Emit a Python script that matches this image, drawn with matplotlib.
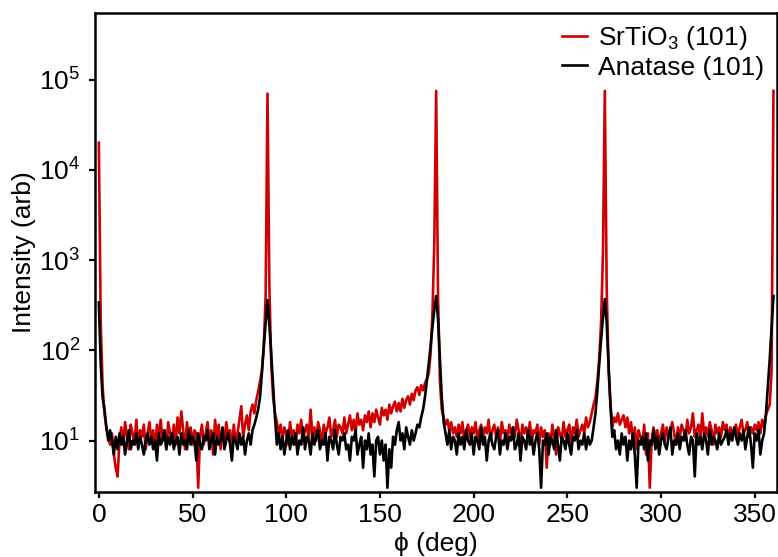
import numpy as np
import matplotlib
matplotlib.use("Agg")
import matplotlib.pyplot as plt
from matplotlib.ticker import LogLocator, NullLocator

plt.rcParams['font.family'] = ['Liberation Sans', 'DejaVu Sans']
plt.rcParams['mathtext.fontset'] = 'custom'
plt.rcParams['mathtext.rm'] = 'Liberation Sans'
plt.rcParams['mathtext.it'] = 'Liberation Sans:italic'
plt.rcParams['mathtext.bf'] = 'Liberation Sans:bold'

phi = np.arange(0, 361, 1)

anatase = [
    340, 70, 30, 22, 14, 10, 13, 10, 7, 11,
    8, 12, 9, 11, 7, 10, 13, 8, 10, 9,
    12, 8, 11, 9, 7, 10, 12, 9, 11, 8,
    10, 6, 12, 9, 10, 13, 8, 11, 9, 12,
    8, 10, 11, 7, 12, 9, 10, 8, 13, 9,
    11, 10, 6, 12, 9, 8, 11, 10, 13, 8,
    10, 12, 7, 11, 9, 10, 14, 8, 10, 12,
    9, 6, 11, 10, 8, 12, 9, 11, 7, 10,
    12, 9, 13, 15, 18, 22, 30, 55, 110, 200,
    360, 190, 90, 40, 18, 9, 12, 8, 11, 7,
    10, 13, 8, 11, 9, 12, 7, 10, 9, 14,
    8, 11, 10, 7, 12, 9, 11, 13, 8, 10,
    9, 12, 6, 11, 10, 8, 13, 9, 7, 11,
    10, 12, 8, 9, 6, 11, 10, 13, 7, 9,
    11, 5, 10, 8, 12, 7, 9, 4, 10, 11,
    7, 10, 6, 9, 3, 8, 5, 11, 9, 13,
    16, 10, 12, 8, 14, 11, 9, 13, 10, 12,
    15, 14, 18, 22, 30, 45, 70, 110, 180, 280,
    400, 220, 80, 30, 16, 12, 9, 13, 8, 11,
    10, 7, 12, 9, 11, 8, 13, 10, 9, 12,
    7, 11, 10, 8, 14, 9, 11, 6, 10, 12,
    9, 8, 11, 13, 7, 10, 9, 12, 8, 11,
    10, 14, 8, 9, 12, 6, 11, 10, 8, 13,
    9, 11, 7, 10, 12, 8, 3, 10, 9, 12,
    7, 11, 10, 8, 13, 9, 6, 11, 10, 8,
    12, 9, 7, 11, 10, 13, 8, 10, 9, 12,
    8, 11, 9, 10, 14, 20, 35, 70, 130, 230,
    370, 200, 70, 25, 11, 13, 8, 10, 7, 12,
    9, 11, 6, 10, 8, 12, 7, 3, 10, 9,
    11, 8, 12, 6, 10, 9, 13, 8, 11, 7,
    10, 12, 9, 8, 11, 14, 7, 10, 9, 12,
    8, 11, 10, 13, 9, 7, 11, 10, 4, 12,
    9, 11, 8, 12, 10, 7, 13, 9, 11, 10,
    8, 12, 9, 10, 11, 13, 9, 12, 10, 14,
    11, 9, 12, 10, 13, 8, 11, 14, 9, 5,
    12, 10, 13, 7, 10, 12, 20, 40, 80, 180,
    400,
]

srtio3 = [
    20000, 200, 40, 20, 14, 11, 9, 12, 7, 5,
    4, 10, 14, 9, 16, 11, 8, 15, 12, 9,
    17, 9, 13, 11, 15, 8, 12, 16, 10, 13,
    8, 15, 11, 17, 10, 13, 8, 16, 12, 10,
    15, 9, 18, 12, 21, 13, 8, 16, 11, 14,
    9, 13, 12, 3, 11, 15, 9, 12, 16, 10,
    13, 7, 17, 11, 15, 8, 12, 10, 16, 11,
    13, 8, 15, 10, 12, 17, 24, 11, 15, 19,
    13, 21, 25, 20, 28, 35, 45, 60, 110, 400,
    70000, 500, 70, 30, 20, 16, 12, 15, 10, 14,
    12, 9, 16, 11, 13, 9, 15, 12, 17, 10,
    13, 15, 10, 22, 11, 14, 10, 16, 13, 9,
    15, 12, 14, 18, 11, 13, 17, 11, 15, 14,
    12, 18, 12, 15, 19, 13, 17, 12, 20, 15,
    17, 13, 19, 16, 21, 14, 20, 16, 22, 18,
    15, 23, 19, 22, 17, 25, 20, 24, 27, 21,
    26, 21, 29, 23, 28, 31, 25, 33, 28, 36,
    39, 32, 41, 36, 43, 48, 55, 90, 250, 1500,
    75000, 400, 45, 22, 18, 15, 17, 13, 16, 12,
    14, 11, 15, 12, 16, 10, 13, 15, 11, 14,
    12, 16, 10, 13, 15, 11, 14, 12, 17, 10,
    13, 15, 11, 14, 9, 16, 12, 13, 10, 15,
    12, 14, 11, 17, 13, 9, 15, 12, 14, 11,
    16, 10, 13, 12, 15, 9, 14, 11, 13, 5,
    12, 9, 15, 11, 7, 14, 12, 10, 16, 11,
    13, 15, 9, 14, 12, 17, 11, 13, 15, 12,
    18, 14, 16, 20, 25, 30, 45, 80, 200, 1200,
    75000, 500, 60, 25, 14, 18, 16, 20, 15, 17,
    19, 14, 18, 12, 16, 10, 14, 8, 13, 11,
    9, 15, 7, 12, 3, 10, 14, 11, 13, 9,
    12, 15, 10, 14, 11, 13, 16, 12, 9, 14,
    11, 15, 13, 10, 17, 12, 14, 20, 11, 13,
    15, 10, 20, 12, 14, 11, 16, 13, 9, 15,
    12, 14, 11, 16, 13, 15, 10, 14, 12, 13,
    15, 11, 14, 17, 12, 13, 16, 11, 14, 12,
    15, 13, 16, 12, 17, 14, 19, 22, 25, 60,
    75000,
]

xticks = [0, 50, 100, 150, 200, 250, 300, 350]
series_labels = ["SrTiO$_3$ (101)", "Anatase (101)"]

fig = plt.figure(figsize=(7.78, 5.57), dpi=100)
ax = fig.add_axes([0.122, 0.117, 0.877, 0.860])

ax.plot(phi, srtio3, color='#d10000', lw=1.9, label=series_labels[0], zorder=2)
ax.plot(phi, anatase, color='black', lw=1.9, label=series_labels[1], zorder=3)

ax.set_yscale('log')
ax.set_xlim(-2.1, 362)
ax.set_ylim(2.7, 5.5e5)
ax.set_xticks(xticks)
ax.yaxis.set_major_locator(LogLocator(base=10, numticks=10))
ax.yaxis.set_minor_locator(NullLocator())

for s in ax.spines.values():
    s.set_linewidth(1.8)
ax.tick_params(axis='both', which='major', direction='out', length=4, width=1.6,
               labelsize=19, pad=4)
ax.tick_params(axis='y', pad=6.5)

ax.set_xlabel("ϕ (deg)", fontsize=19, labelpad=4)
ax.set_ylabel("Intensity (arb)", fontsize=19, labelpad=2)

leg = ax.legend(loc='upper right', bbox_to_anchor=(1 - 10 / 682, 1 - 9 / 479),
                frameon=False, fontsize=19, handlelength=0.95,
                handletextpad=0.45, labelspacing=0.12, borderaxespad=0.0,
                borderpad=0.1)

fig.savefig("out.png", dpi=100)
